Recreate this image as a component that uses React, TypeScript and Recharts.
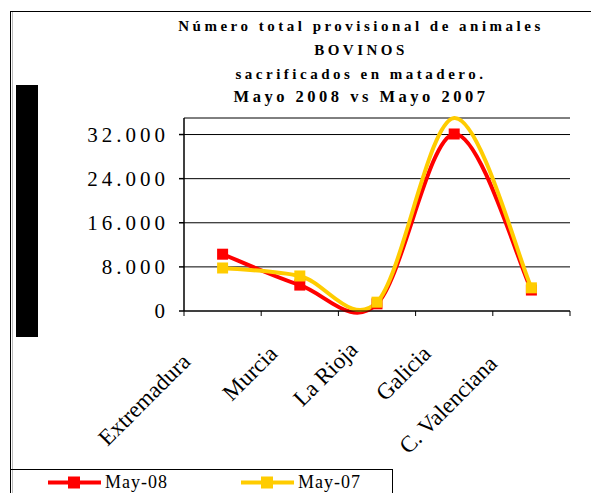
import React from 'react';
import { LineChart, Line, XAxis, YAxis, CartesianGrid } from 'recharts';

const regions = ['Extremadura', 'Murcia', 'La Rioja', 'Galicia', 'C. Valenciana'];
const may08 = [10300, 4700, 1300, 32100, 3800];
const may07 = [7800, 6350, 1600, 35000, 4200];
const may07HiddenMarkers = ['Galicia'];
const yTicks = [0, 8000, 16000, 24000, 32000];
const yMax = 35000;
const titleLines = [
  'Número total provisional de animales',
  'BOVINOS',
  'sacrificados en matadero.',
  'Mayo 2008 vs Mayo 2007',
];
const seriesNames = ['May-08', 'May-07'];
const RED = '#FF0000';
const YELLOW = '#FFCC00';
const SERIF = '"Liberation Serif", "Times New Roman", serif';

// small per-label nudges of the rotated category labels (style only)
const labelDx = [-31, -21, -18, -22, -33];
const labelDy = [52, 44, 40, 44, 54];

const data = regions.map((r, i) => ({ region: r, may08: may08[i], may07: may07[i] }));

const fmt = (v: number) => String(v).replace(/\B(?=(\d{3})+(?!\d))/g, '.');

// Catmull-Rom style smoothing (similar to Excel's smoothed lines)
const smoothCurve = (context: any) => {
  let pts: number[][] = [];
  return {
    areaStart() {},
    areaEnd() {},
    lineStart() {
      pts = [];
    },
    lineEnd() {
      const n = pts.length;
      if (!n) return;
      context.moveTo(pts[0][0], pts[0][1]);
      for (let i = 0; i < n - 1; i++) {
        const p0 = pts[i - 1] || pts[i];
        const p1 = pts[i];
        const p2 = pts[i + 1];
        const p3 = pts[i + 2] || pts[i + 1];
        context.bezierCurveTo(
          p1[0] + (p2[0] - p0[0]) / 6,
          p1[1] + (p2[1] - p0[1]) / 6,
          p2[0] - (p3[0] - p1[0]) / 6,
          p2[1] - (p3[1] - p1[1]) / 6,
          p2[0],
          p2[1]
        );
      }
    },
    point(x: number, y: number) {
      pts.push([+x, +y]);
    },
  };
};

const makeDot = (color: string, hidden: string[]) => (p: any) => {
  const key = `${color}-${p.index}`;
  if (p.cx == null || p.cy == null || hidden.includes(p.payload?.region)) return <g key={key} />;
  return <rect key={key} x={p.cx - 5.5} y={p.cy - 5.5} width={11} height={11} fill={color} />;
};

const XTick = (props: any) => {
  const { x, y, payload, index, visibleTicksCount, width } = props;
  const half = payload.offset ? payload.offset : width / (visibleTicksCount || regions.length) / 2;
  const last = index === regions.length - 1;
  const dx = labelDx[index] ?? -25;
  const dy = labelDy[index] ?? 47;
  return (
    <g>
      <line x1={x - half} x2={x - half} y1={y} y2={y + 5} stroke="#000" strokeWidth={1} />
      {last && <line x1={x + half} x2={x + half} y1={y} y2={y + 5} stroke="#000" strokeWidth={1} />}
      <text
        transform={`translate(${x + dx}, ${y + dy}) rotate(-45)`}
        textAnchor="end"
        fontFamily={SERIF}
        fontSize={23}
        fill="#000"
      >
        {payload.value}
      </text>
    </g>
  );
};

const titleBaselines = [31, 55, 79, 102];

export default function App() {
  return (
    <div style={{ position: 'absolute', left: 0, top: 0, width: 591, height: 493, background: '#fff', overflow: 'hidden' }}>
      {/* frame */}
      <div style={{ position: 'absolute', left: 10, top: 11, width: 600, height: 500, borderTop: '1px solid #000', borderLeft: '1px solid #000' }} />
      <div style={{ position: 'absolute', left: 12, top: 12, width: 1, height: 490, background: '#bbb' }} />
      {/* black block */}
      <div style={{ position: 'absolute', left: 16, top: 85, width: 22, height: 252, background: '#000' }} />
      {/* title */}
      <svg width={591} height={120} style={{ position: 'absolute', left: 0, top: 0 }}>
        {titleLines.map((t, i) => (
          <text
            key={t}
            x={361}
            y={titleBaselines[i]}
            textAnchor="middle"
            fontFamily={SERIF}
            fontWeight="bold"
            fontSize={i === 3 ? 16.5 : 15}
            letterSpacing={i === 3 ? 3.5 : 3.5}
            fill="#000"
          >
            {t}
          </text>
        ))}
      </svg>
      <div style={{ position: 'absolute', left: 0, top: 0 }}>
        <LineChart width={591} height={493} data={data} margin={{ top: 118, right: 21, bottom: 0, left: 0 }}>
          <CartesianGrid horizontal vertical={false} stroke="#000" strokeWidth={1} />
          <XAxis
            dataKey="region"
            scale="band"
            height={182}
            interval={0}
            axisLine={{ stroke: '#000', strokeWidth: 1 }}
            tickLine={false}
            tickSize={0}
            tickMargin={0}
            tick={<XTick />}
          />
          <YAxis
            width={184}
            domain={[0, yMax]}
            ticks={yTicks}
            interval={0}
            tickFormatter={fmt}
            axisLine={{ stroke: '#000', strokeWidth: 1.5 }}
            tickLine={{ stroke: '#000', strokeWidth: 1.5 }}
            tickSize={5}
            tickMargin={10}
            tick={{ fontFamily: SERIF, fontSize: 21, fill: '#000', letterSpacing: 4 }}
          />
          <Line
            dataKey="may08"
            name={seriesNames[0]}
            type={smoothCurve as any}
            stroke={RED}
            strokeWidth={4}
            dot={makeDot(RED, [])}
            activeDot={false}
            isAnimationActive={false}
          />
          <Line
            dataKey="may07"
            name={seriesNames[1]}
            type={smoothCurve as any}
            stroke={YELLOW}
            strokeWidth={4}
            dot={makeDot(YELLOW, may07HiddenMarkers)}
            activeDot={false}
            isAnimationActive={false}
          />
        </LineChart>
      </div>
      {/* legend */}
      <div style={{ position: 'absolute', left: 10, top: 469, width: 382, height: 40, borderTop: '1px solid #000', borderRight: '1px solid #000' }} />
      <svg width={591} height={30} style={{ position: 'absolute', left: 0, top: 468 }}>
        {[RED, YELLOW].map((c, i) => {
          const x0 = i === 0 ? 48 : 241;
          return (
            <g key={c}>
              <line x1={x0} x2={x0 + 53} y1={14.5} y2={14.5} stroke={c} strokeWidth={4} />
              <rect x={x0 + 20} y={8.5} width={12} height={12} fill={c} />
              <text x={x0 + 57} y={20} fontFamily={SERIF} fontSize={18} letterSpacing={1} fill="#000">
                {seriesNames[i]}
              </text>
            </g>
          );
        })}
      </svg>
    </div>
  );
}
